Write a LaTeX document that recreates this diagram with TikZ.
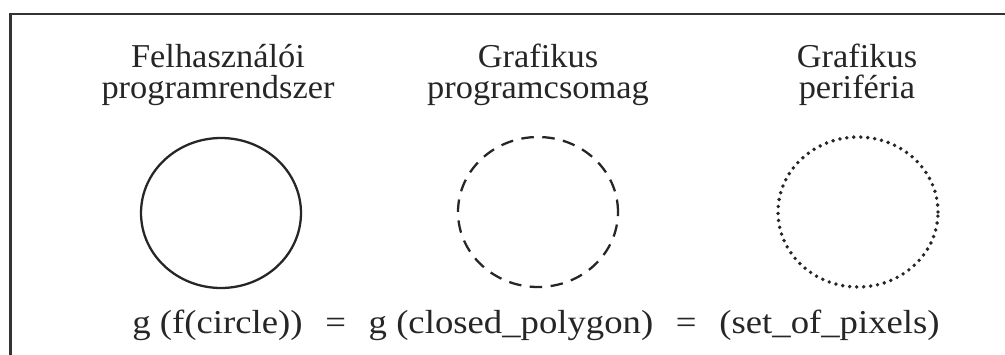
\documentclass[tikz,border=0pt]{standalone}
\usepackage{fontspec}
\setmainfont[FakeStretch=1.03]{Liberation Serif}
\newfontfamily\egyfont[FakeStretch=1.1]{Liberation Serif}
\usepackage{tikz}
\usetikzlibrary{shapes.geometric}
\tikzset{
  cim/.style={align=center, anchor=base, inner sep=0pt, text=black!85,
              font=\fontsize{19}{17.6}\selectfont},
  kor/.style={ellipse, minimum width=3.2cm, minimum height=3cm, inner sep=0pt,
              draw=black!85, line width=1.3pt},
  keret/.style={draw=black!80, line width=1.4pt},
}

\begin{document}
\begin{tikzpicture}[x=0.02cm, y=-0.02cm]
    \useasboundingbox (0,0) rectangle (1005,355);
    \draw[keret] (10.5,355) -- (10.5,14) -- (1005,14);
    \node[cim] (felh) at (218,98) {Felhasználói\\ programrendszer};
    \node[cim] (graf) at (538,98) {Grafikus\\ programcsomag};
    \node[cim] (peri) at (857,98) {Grafikus\\ periféria};
    \node[kor] (kor1) at (221,213) {};
    \node[kor, dash pattern=on 0.25cm off 0.17cm] (kor2) at (538,212) {};
    \node[kor, line width=2.2pt, line cap=round, dash pattern=on 0pt off 0.14cm] (kor3) at (858,212) {};
    \node[cim, font=\fontsize{19}{17.6}\egyfont] (egyenlet) at (536,333) {g (f(circle))\hspace{.68em}=\hspace{.68em}g (closed\_polygon)\hspace{.68em}=\hspace{.68em}(set\_of\_pixels)};
  \end{tikzpicture}
\end{document}
